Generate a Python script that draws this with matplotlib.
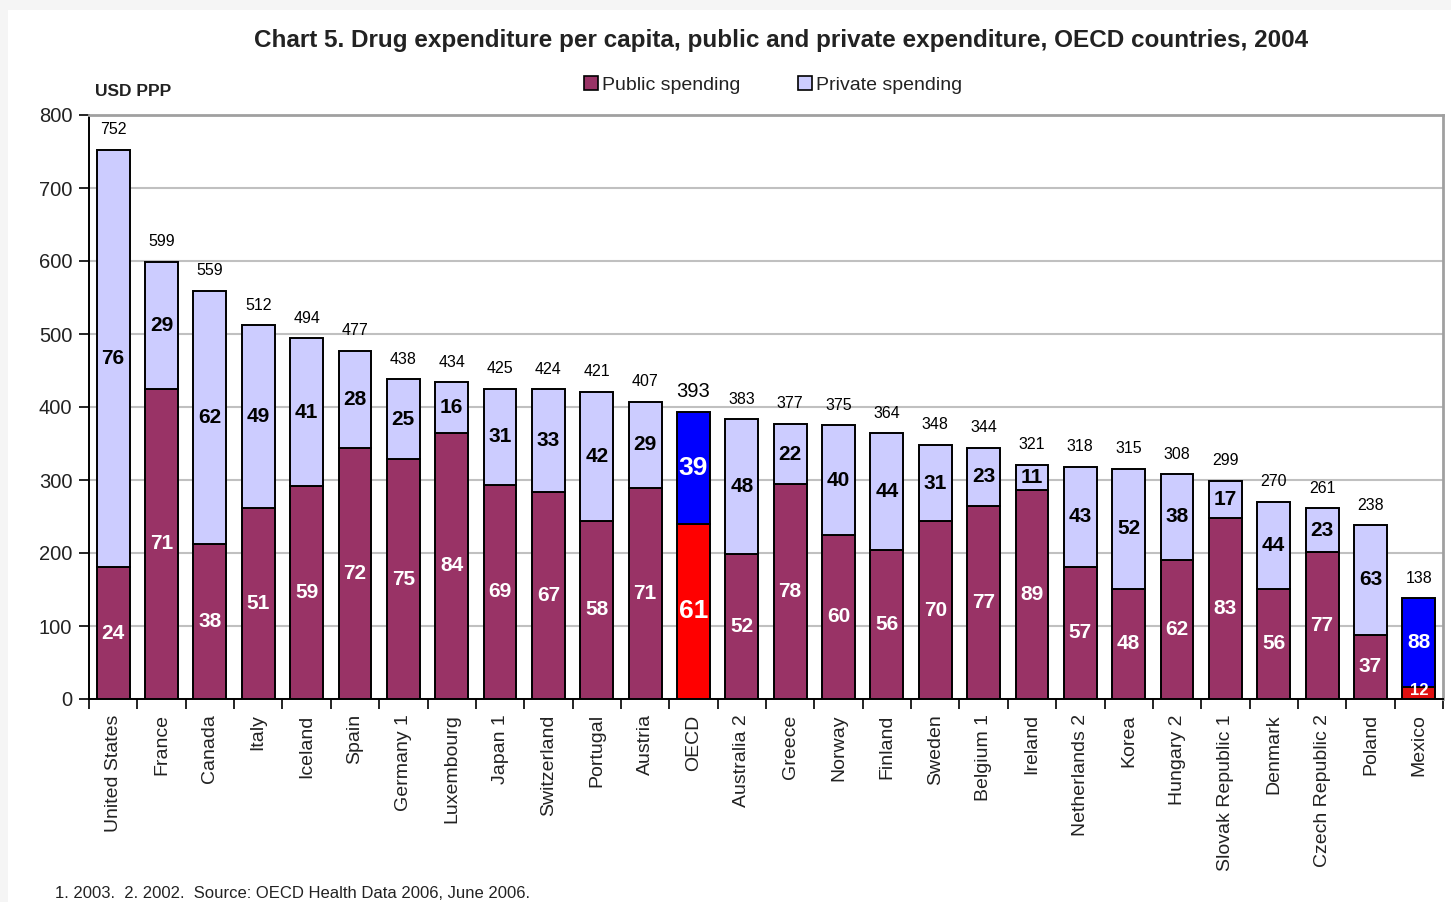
import matplotlib.pyplot as plt
import matplotlib.patches as mpatches
import numpy as np

plt.rcParams['font.family'] = ['Liberation Sans', 'DejaVu Sans']

# donnees
countries = ["United States", "France", "Canada", "Italy", "Iceland", "Spain",
             "Germany 1", "Luxembourg", "Japan 1", "Switzerland", "Portugal",
             "Austria", "OECD", "Australia 2", "Greece", "Norway", "Finland",
             "Sweden", "Belgium 1", "Ireland", "Netherlands 2", "Korea",
             "Hungary 2", "Slovak Republic 1", "Denmark", "Czech Republic 2",
             "Poland", "Mexico"]
totals = [752, 599, 559, 512, 494, 477, 438, 434, 425, 424, 421, 407, 393, 383,
          377, 375, 364, 348, 344, 321, 318, 315, 308, 299, 270, 261, 238, 138]
public_pct = [24, 71, 38, 51, 59, 72, 75, 84, 69, 67, 58, 71, 61, 52, 78, 60,
              56, 70, 77, 89, 57, 48, 62, 83, 56, 77, 37, 12]
private_pct = [76, 29, 62, 49, 41, 28, 25, 16, 31, 33, 42, 29, 39, 48, 22, 40,
               44, 31, 23, 11, 43, 52, 38, 17, 44, 23, 63, 88]

totals = np.array(totals)
public = totals * np.array(public_pct) / 100
private = totals - public
x = np.arange(len(countries))

col_pub = ["#993366"] * len(x)
col_priv = ["#ccccff"] * len(x)
i_oecd = countries.index("OECD")
i_mex = countries.index("Mexico")
col_pub[i_oecd] = "#ff0000"
col_priv[i_oecd] = "#0000ff"
col_pub[i_mex] = "#e01010"
col_priv[i_mex] = "#0000ff"

fig = plt.figure(figsize=(14.51, 9.02), dpi=100)
fig.patch.set_facecolor("#f5f5f5")
fig.patches.append(mpatches.Rectangle((8/1451, 0), 1, 1 - 10/902,
                                      transform=fig.transFigure,
                                      facecolor="white", edgecolor="none",
                                      zorder=-10))
ax = fig.add_axes([89/1451, 1 - 699/902, (1443 - 89)/1451, (699 - 115)/902])

w = 0.68
ax.bar(x, public, w, color=col_pub, edgecolor="black", linewidth=1.4, zorder=3)
ax.bar(x, private, w, bottom=public, color=col_priv, edgecolor="black",
       linewidth=1.4, zorder=3)

# etiquettes dans les barres
for i in x:
    special = i in (i_oecd, i_mex)
    c_priv = "white" if special else "black"
    fs = 19 if i == i_oecd else 15
    fs_pub = 12 if i == i_mex else fs
    ax.text(i, public[i] + private[i] / 2, str(private_pct[i]), ha="center",
            va="center", fontsize=fs, fontweight="bold", color=c_priv, zorder=4)
    ax.text(i, public[i] / 2 + (3 if i == i_mex else 0), str(public_pct[i]),
            ha="center", va="center", fontsize=fs_pub, fontweight="bold",
            color="white", zorder=4)
    ax.annotate(str(totals[i]), (i, totals[i]), xytext=(0, 14.5),
                textcoords="offset points", ha="center", va="center",
                fontsize=14.5 if i == i_oecd else 11.5,
                fontweight="normal", color="black", zorder=4)

ax.set_xlim(-0.5, len(x) - 0.5)
ax.set_ylim(0, 800)
ax.set_yticks(np.arange(0, 801, 100))
ax.yaxis.grid(True, color="#c0c0c0", linewidth=1.5, zorder=0)
ax.set_axisbelow(True)

ax.set_xticks(np.arange(-0.5, len(x), 1))
ax.set_xticklabels([])
ax.set_xticks(x, minor=True)
ax.set_xticklabels(countries, minor=True, rotation=90, fontsize=14,
                   color="#222222")
ax.tick_params(axis="x", which="major", length=7, width=1.2, direction="out")
ax.tick_params(axis="x", which="minor", length=0, pad=11)
ax.tick_params(axis="y", length=7, width=1.2, pad=5, labelsize=14.5,
               labelcolor="#222222")

for s in ["left", "bottom"]:
    ax.spines[s].set_color("black")
    ax.spines[s].set_linewidth(1.4)
for s in ["top", "right"]:
    ax.spines[s].set_color("#a0a0a0")
    ax.spines[s].set_linewidth(2)

fig.text(781/1451, 1 - 41/902,
         "Chart 5. Drug expenditure per capita, public and private expenditure, OECD countries, 2004",
         ha="center", va="center", fontsize=17.5, fontweight="bold",
         color="#222222")
fig.text(95/1451, 1 - 91/902, "USD PPP", ha="left", va="center",
         fontsize=12.5, fontweight="bold", color="#222222")
fig.text(55/1451, 1 - 893/902,
         "1. 2003.  2. 2002.  Source: OECD Health Data 2006, June 2006.",
         ha="left", va="center", fontsize=12, color="#222222")

h1 = mpatches.Patch(facecolor="#993366", edgecolor="black", linewidth=1.2)
h2 = mpatches.Patch(facecolor="#ccccff", edgecolor="black", linewidth=1.2)
fig.legend([h1, h2], ["Public spending", "Private spending"], ncol=2,
           loc="center", bbox_to_anchor=(773/1451, 1 - 85/902), frameon=False,
           fontsize=14, handlelength=0.7, handleheight=0.7, handletextpad=0.2,
           columnspacing=3.0, labelcolor="#222222")

fig.savefig("out.png", dpi=100, facecolor=fig.get_facecolor())
